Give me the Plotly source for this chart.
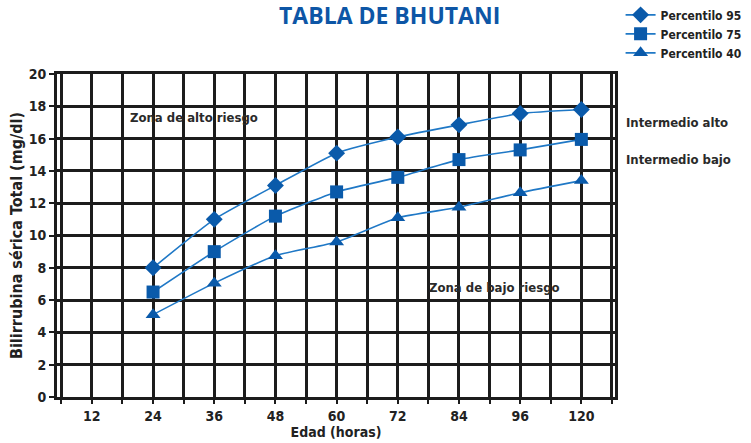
import plotly.graph_objects as go

# ---- data ----
tick_labels = ["12", "24", "36", "48", "60", "72", "84", "96", "120"]
hours = ["24", "36", "48", "60", "72", "84", "96", "120"]
p95 = [8.0, 11.0, 13.1, 15.1, 16.1, 16.85, 17.55, 17.8]
p75 = [6.5, 9.0, 11.2, 12.7, 13.6, 14.7, 15.3, 15.95]
p40 = [5.1, 7.05, 8.75, 9.6, 11.1, 11.75, 12.65, 13.4]
y_ticks = list(range(0, 21, 2))

series_names = ["Percentilo 95", "Percentilo 75", "Percentilo 40"]

FONT = "Liberation Sans Narrow, DejaVu Sans Condensed, Arial Narrow, sans-serif"
LINE_C = "#1f78c6"
MARK_C = "#0a5aaa"
GRID_C = "#1c1c1c"

xpos = [tick_labels.index(h) for h in hours]

fig = go.Figure()
for name, vals, sym, size in [
    (series_names[0], p95, "diamond", 13),
    (series_names[1], p75, "square", 13),
    (series_names[2], p40, "triangle-up", 13),
]:
    fig.add_trace(go.Scatter(
        x=xpos, y=vals, name=name, mode="lines+markers",
        line=dict(color=LINE_C, width=1.6, shape="spline", smoothing=0.5),
        marker=dict(symbol=sym, size=size, color=MARK_C),
    ))

fig.update_layout(
    width=751, height=443,
    margin=dict(l=57, r=136, t=74, b=46, autoexpand=False),
    paper_bgcolor="white", plot_bgcolor="white",
    font=dict(family=FONT, color="#222222"),
    showlegend=True,
    legend=dict(
        x=1.01, xref="paper", xanchor="left",
        y=1.228, yanchor="top",
        font=dict(family=FONT, size=12, color="#222222", weight="bold"),
        bgcolor="rgba(0,0,0,0)", itemwidth=30, tracegroupgap=0,
    ),
)

fig.update_xaxes(
    automargin=False,
    range=[-0.57, 8.55],
    tickvals=list(range(len(tick_labels))), ticktext=tick_labels,
    showgrid=True, gridcolor=GRID_C, gridwidth=2.5,
    minor=dict(dtick=0.5, tick0=0.5, showgrid=True, gridcolor=GRID_C, gridwidth=2.5,
               ticks="outside", ticklen=4, tickwidth=2, tickcolor=GRID_C),
    ticks="outside", ticklen=4, tickwidth=2, tickcolor=GRID_C,
    showline=True, linecolor=GRID_C, linewidth=3, mirror=True,
    zeroline=False,
    tickfont=dict(family=FONT, size=14, color="#222222", weight="bold"),
    title=dict(text="Edad (horas)", standoff=2,
               font=dict(family=FONT, size=14, color="#222222", weight="bold")),
)
fig.update_yaxes(
    automargin=False,
    range=[0, 20], tickvals=y_ticks,
    showgrid=True, gridcolor=GRID_C, gridwidth=2.5,
    ticks="outside", ticklen=5, tickwidth=2, tickcolor=GRID_C,
    showline=True, linecolor=GRID_C, linewidth=3, mirror=True,
    zeroline=False,
    tickfont=dict(family=FONT, size=14, color="#222222", weight="bold"),
    title=dict(text="Bilirrubina sérica Total (mg/dl)", standoff=3,
               font=dict(family=FONT, size=16, color="#222222", weight="bold")),
)

ann_font = dict(family=FONT, size=13, color="#2a2a2a", weight="bold")
fig.add_annotation(text="Zona de alto riesgo", x=0.59, y=17.3, xref="x", yref="y",
                   xanchor="left", yanchor="middle", showarrow=False, font=ann_font)
fig.add_annotation(text="Zona de bajo riesgo", x=5.47, y=6.75, xref="x", yref="y",
                   xanchor="left", yanchor="middle", showarrow=False, font=ann_font)
fig.add_annotation(text="Intermedio alto", x=1.016, y=17.0, xref="paper", yref="y",
                   xanchor="left", yanchor="middle", showarrow=False, font=ann_font)
fig.add_annotation(text="Intermedio bajo", x=1.016, y=14.7, xref="paper", yref="y",
                   xanchor="left", yanchor="middle", showarrow=False, font=ann_font)

fig.add_annotation(text="TABLA DE BHUTANI", x=0.595, y=1.236, xref="paper", yref="paper",
                   xanchor="center", yanchor="top", showarrow=False, borderpad=0,
                   font=dict(family="Open Sans, sans-serif", size=23, color="#0d56a6", weight="bold"))

fig.write_html("out.html", config={"displayModeBar": False},
               post_script="document.body.style.margin='0';document.body.style.overflow='hidden';")
